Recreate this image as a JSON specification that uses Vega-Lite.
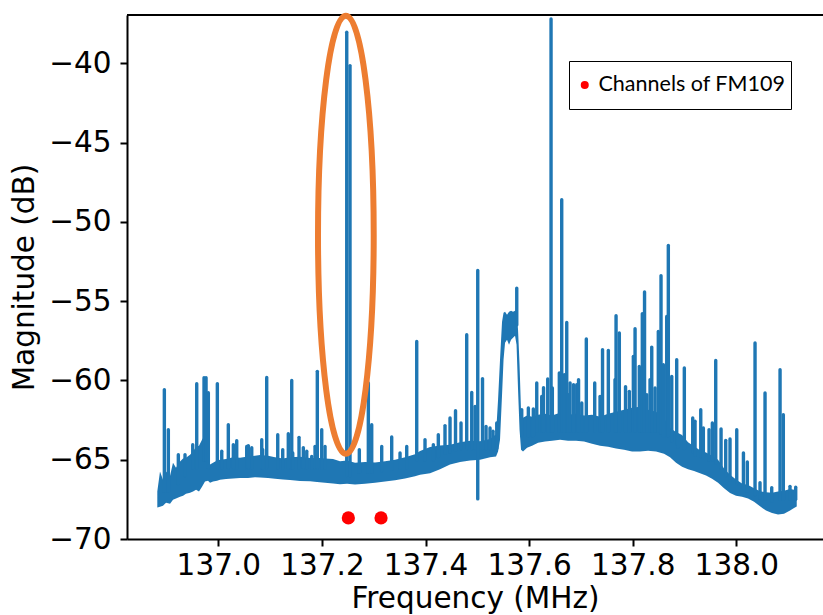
{
  "$schema": "https://vega.github.io/schema/vega-lite/v6.json",
  "width": 696,
  "height": 524,
  "autosize": {"type": "none"},
  "padding": {"left": 127, "top": 15, "right": 0, "bottom": 76},
  "background": "white",
  "config": {
    "view": {"stroke": null},
    "font": "DejaVu Sans",
    "axis": {
      "labelFont": "DejaVu Sans",
      "titleFont": "DejaVu Sans",
      "labelFontSize": 29.5,
      "titleFontSize": 29.5,
      "titleFontWeight": "normal",
      "labelColor": "black",
      "titleColor": "black",
      "domainColor": "black",
      "tickColor": "black",
      "domainWidth": 2,
      "tickWidth": 2,
      "tickSize": 7,
      "grid": false,
      "labelFlush": false,
      "labelOverlap": false
    }
  },
  "datasets": {
    "band": [
      {"freq": 136.8822, "hi": -67.01, "lo": -68.02},
      {"freq": 136.8874, "hi": -65.75, "lo": -67.96},
      {"freq": 136.8932, "hi": -66.26, "lo": -67.90},
      {"freq": 136.8990, "hi": -65.75, "lo": -67.71},
      {"freq": 136.9068, "hi": -66.01, "lo": -67.77},
      {"freq": 136.9125, "hi": -65.19, "lo": -67.52},
      {"freq": 136.9183, "hi": -65.50, "lo": -67.45},
      {"freq": 136.9261, "hi": -65.12, "lo": -67.33},
      {"freq": 136.9319, "hi": -64.93, "lo": -67.27},
      {"freq": 136.9376, "hi": -64.87, "lo": -67.14},
      {"freq": 136.9454, "hi": -64.68, "lo": -67.08},
      {"freq": 136.9512, "hi": -64.49, "lo": -67.01},
      {"freq": 136.9570, "hi": -64.18, "lo": -66.89},
      {"freq": 136.9627, "hi": -64.12, "lo": -67.01},
      {"freq": 136.9685, "hi": -63.74, "lo": -66.70},
      {"freq": 136.9743, "hi": -63.42, "lo": -66.38},
      {"freq": 136.9801, "hi": -64.05, "lo": -66.32},
      {"freq": 136.9840, "hi": -65.30, "lo": -66.45},
      {"freq": 136.9898, "hi": -65.20, "lo": -66.38},
      {"freq": 136.9975, "hi": -65.05, "lo": -66.32},
      {"freq": 137.0033, "hi": -65.00, "lo": -66.26},
      {"freq": 137.0149, "hi": -64.95, "lo": -66.22},
      {"freq": 137.0284, "hi": -64.85, "lo": -66.18},
      {"freq": 137.0419, "hi": -64.88, "lo": -66.15},
      {"freq": 137.0573, "hi": -64.80, "lo": -66.15},
      {"freq": 137.0708, "hi": -64.75, "lo": -66.10},
      {"freq": 137.0805, "hi": -64.70, "lo": -66.12},
      {"freq": 137.0959, "hi": -64.75, "lo": -66.15},
      {"freq": 137.1095, "hi": -64.85, "lo": -66.20},
      {"freq": 137.1249, "hi": -64.92, "lo": -66.25},
      {"freq": 137.1384, "hi": -64.85, "lo": -66.28},
      {"freq": 137.1577, "hi": -64.82, "lo": -66.34},
      {"freq": 137.1770, "hi": -64.90, "lo": -66.36},
      {"freq": 137.1905, "hi": -64.88, "lo": -66.40},
      {"freq": 137.2060, "hi": -64.92, "lo": -66.45},
      {"freq": 137.2214, "hi": -64.95, "lo": -66.50},
      {"freq": 137.2349, "hi": -65.10, "lo": -66.55},
      {"freq": 137.2485, "hi": -65.05, "lo": -66.51},
      {"freq": 137.2639, "hi": -65.20, "lo": -66.57},
      {"freq": 137.2832, "hi": -65.15, "lo": -66.51},
      {"freq": 137.3025, "hi": -65.18, "lo": -66.45},
      {"freq": 137.3218, "hi": -65.10, "lo": -66.38},
      {"freq": 137.3411, "hi": -65.00, "lo": -66.30},
      {"freq": 137.3604, "hi": -64.85, "lo": -66.18},
      {"freq": 137.3797, "hi": -64.65, "lo": -66.05},
      {"freq": 137.3894, "hi": -64.45, "lo": -65.95},
      {"freq": 137.4087, "hi": -64.20, "lo": -65.85},
      {"freq": 137.4280, "hi": -64.10, "lo": -65.60},
      {"freq": 137.4473, "hi": -64.05, "lo": -65.31},
      {"freq": 137.4666, "hi": -63.90, "lo": -65.15},
      {"freq": 137.4859, "hi": -63.80, "lo": -65.05},
      {"freq": 137.5052, "hi": -63.83, "lo": -65.00},
      {"freq": 137.5245, "hi": -63.70, "lo": -64.85},
      {"freq": 137.5361, "hi": -63.40, "lo": -64.80},
      {"freq": 137.5400, "hi": -61.22, "lo": -64.49},
      {"freq": 137.5438, "hi": -58.70, "lo": -63.74},
      {"freq": 137.5477, "hi": -56.30, "lo": -60.90},
      {"freq": 137.5506, "hi": -55.73, "lo": -58.70},
      {"freq": 137.5535, "hi": -55.67, "lo": -57.62},
      {"freq": 137.5573, "hi": -55.86, "lo": -57.44},
      {"freq": 137.5612, "hi": -55.67, "lo": -57.75},
      {"freq": 137.5651, "hi": -55.61, "lo": -57.44},
      {"freq": 137.5689, "hi": -55.67, "lo": -57.31},
      {"freq": 137.5728, "hi": -55.61, "lo": -57.18},
      {"freq": 137.5757, "hi": -55.55, "lo": -57.75},
      {"freq": 137.5786, "hi": -56.81, "lo": -60.59},
      {"freq": 137.5815, "hi": -59.01, "lo": -63.11},
      {"freq": 137.5844, "hi": -61.97, "lo": -64.37},
      {"freq": 137.5882, "hi": -62.35, "lo": -64.49},
      {"freq": 137.5960, "hi": -62.22, "lo": -64.24},
      {"freq": 137.6056, "hi": -62.29, "lo": -64.12},
      {"freq": 137.6172, "hi": -62.16, "lo": -63.93},
      {"freq": 137.6307, "hi": -62.10, "lo": -63.86},
      {"freq": 137.6442, "hi": -62.22, "lo": -63.80},
      {"freq": 137.6597, "hi": -62.04, "lo": -63.74},
      {"freq": 137.6751, "hi": -62.16, "lo": -63.80},
      {"freq": 137.6906, "hi": -62.10, "lo": -63.80},
      {"freq": 137.7060, "hi": -62.22, "lo": -63.86},
      {"freq": 137.7214, "hi": -62.16, "lo": -63.99},
      {"freq": 137.7369, "hi": -62.29, "lo": -64.12},
      {"freq": 137.7523, "hi": -62.10, "lo": -64.18},
      {"freq": 137.7678, "hi": -61.97, "lo": -64.30},
      {"freq": 137.7832, "hi": -61.85, "lo": -64.37},
      {"freq": 137.7987, "hi": -61.72, "lo": -64.49},
      {"freq": 137.8141, "hi": -61.66, "lo": -64.49},
      {"freq": 137.8295, "hi": -61.85, "lo": -64.43},
      {"freq": 137.8450, "hi": -61.97, "lo": -64.49},
      {"freq": 137.8604, "hi": -62.35, "lo": -64.62},
      {"freq": 137.8720, "hi": -63.00, "lo": -64.85},
      {"freq": 137.8836, "hi": -63.25, "lo": -65.20},
      {"freq": 137.8952, "hi": -63.45, "lo": -65.45},
      {"freq": 137.9068, "hi": -63.90, "lo": -65.60},
      {"freq": 137.9183, "hi": -64.15, "lo": -65.72},
      {"freq": 137.9299, "hi": -64.40, "lo": -65.85},
      {"freq": 137.9415, "hi": -64.55, "lo": -66.00},
      {"freq": 137.9531, "hi": -64.75, "lo": -66.20},
      {"freq": 137.9647, "hi": -65.00, "lo": -66.45},
      {"freq": 137.9763, "hi": -65.55, "lo": -66.80},
      {"freq": 137.9878, "hi": -65.95, "lo": -67.10},
      {"freq": 137.9994, "hi": -66.25, "lo": -67.27},
      {"freq": 138.0110, "hi": -66.50, "lo": -67.33},
      {"freq": 138.0226, "hi": -66.60, "lo": -67.45},
      {"freq": 138.0342, "hi": -66.80, "lo": -67.65},
      {"freq": 138.0457, "hi": -66.99, "lo": -67.94},
      {"freq": 138.0573, "hi": -67.05, "lo": -68.21},
      {"freq": 138.0689, "hi": -67.08, "lo": -68.36},
      {"freq": 138.0805, "hi": -67.01, "lo": -68.46},
      {"freq": 138.0921, "hi": -66.95, "lo": -68.40},
      {"freq": 138.1037, "hi": -66.85, "lo": -68.20},
      {"freq": 138.1114, "hi": -66.90, "lo": -68.05},
      {"freq": 138.1166, "hi": -67.10, "lo": -67.95}
    ],
    "spikes": [
      {"freq": 136.8958, "peak": -60.59, "base": -67.0},
      {"freq": 136.9035, "peak": -63.11, "base": -67.0},
      {"freq": 136.9228, "peak": -64.68, "base": -66.5},
      {"freq": 136.9357, "peak": -64.68, "base": -66.0},
      {"freq": 136.9506, "peak": -64.05, "base": -65.5},
      {"freq": 136.9583, "peak": -60.21, "base": -65.5},
      {"freq": 136.9724, "peak": -59.83, "base": -65.0},
      {"freq": 136.9763, "peak": -59.83, "base": -65.0},
      {"freq": 136.9807, "peak": -60.78, "base": -65.5},
      {"freq": 136.9981, "peak": -60.21, "base": -65.5},
      {"freq": 137.0066, "peak": -64.47, "base": -65.5},
      {"freq": 137.0193, "peak": -62.79, "base": -65.5},
      {"freq": 137.0290, "peak": -64.05, "base": -65.5},
      {"freq": 137.0355, "peak": -63.80, "base": -65.5},
      {"freq": 137.0548, "peak": -64.16, "base": -65.5},
      {"freq": 137.0645, "peak": -64.24, "base": -65.5},
      {"freq": 137.0579, "peak": -64.11, "base": -65.5},
      {"freq": 137.0838, "peak": -63.74, "base": -65.5},
      {"freq": 137.0857, "peak": -64.37, "base": -65.5},
      {"freq": 137.0934, "peak": -59.81, "base": -65.5},
      {"freq": 137.1147, "peak": -63.42, "base": -65.5},
      {"freq": 137.1243, "peak": -64.37, "base": -65.5},
      {"freq": 137.1351, "peak": -63.36, "base": -65.5},
      {"freq": 137.1417, "peak": -60.00, "base": -65.5},
      {"freq": 137.1436, "peak": -64.58, "base": -65.5},
      {"freq": 137.1558, "peak": -63.59, "base": -65.5},
      {"freq": 137.1641, "peak": -64.24, "base": -65.5},
      {"freq": 137.1707, "peak": -64.47, "base": -65.5},
      {"freq": 137.1803, "peak": -64.79, "base": -65.5},
      {"freq": 137.1867, "peak": -64.16, "base": -65.5},
      {"freq": 137.1911, "peak": -59.43, "base": -65.5},
      {"freq": 137.1996, "peak": -63.11, "base": -65.5},
      {"freq": 137.2060, "peak": -64.16, "base": -65.5},
      {"freq": 137.2479, "peak": -38.05, "base": -66.0},
      {"freq": 137.2542, "peak": -40.15, "base": -66.0},
      {"freq": 137.2722, "peak": -64.37, "base": -65.8},
      {"freq": 137.2896, "peak": -60.16, "base": -65.8},
      {"freq": 137.2961, "peak": -62.79, "base": -65.8},
      {"freq": 137.3154, "peak": -64.16, "base": -65.7},
      {"freq": 137.3347, "peak": -63.57, "base": -65.6},
      {"freq": 137.3508, "peak": -64.58, "base": -65.5},
      {"freq": 137.3637, "peak": -64.16, "base": -65.5},
      {"freq": 137.3830, "peak": -57.54, "base": -65.0},
      {"freq": 137.3990, "peak": -63.74, "base": -65.0},
      {"freq": 137.4151, "peak": -64.05, "base": -65.0},
      {"freq": 137.4247, "peak": -63.42, "base": -64.8},
      {"freq": 137.4376, "peak": -62.85, "base": -64.6},
      {"freq": 137.4473, "peak": -62.37, "base": -64.5},
      {"freq": 137.4579, "peak": -61.91, "base": -64.4},
      {"freq": 137.4685, "peak": -62.68, "base": -64.3},
      {"freq": 137.4795, "peak": -57.12, "base": -64.3},
      {"freq": 137.4892, "peak": -60.76, "base": -64.3},
      {"freq": 137.4956, "peak": -61.64, "base": -64.3},
      {"freq": 137.5008, "peak": -53.07, "base": -67.47},
      {"freq": 137.5100, "peak": -59.89, "base": -64.3},
      {"freq": 137.5168, "peak": -62.90, "base": -64.3},
      {"freq": 137.5245, "peak": -63.00, "base": -64.3},
      {"freq": 137.5303, "peak": -63.20, "base": -64.3},
      {"freq": 137.5375, "peak": -62.68, "base": -64.3},
      {"freq": 137.5761, "peak": -54.18, "base": -56.5},
      {"freq": 137.5857, "peak": -61.85, "base": -63.5},
      {"freq": 137.5985, "peak": -61.74, "base": -63.5},
      {"freq": 137.6081, "peak": -61.80, "base": -63.5},
      {"freq": 137.6147, "peak": -60.16, "base": -63.2},
      {"freq": 137.6243, "peak": -61.01, "base": -63.2},
      {"freq": 137.6278, "peak": -60.46, "base": -63.2},
      {"freq": 137.6359, "peak": -59.91, "base": -63.2},
      {"freq": 137.6423, "peak": -37.21, "base": -63.2},
      {"freq": 137.6448, "peak": -60.48, "base": -63.2},
      {"freq": 137.6583, "peak": -59.53, "base": -63.2},
      {"freq": 137.6629, "peak": -48.61, "base": -63.2},
      {"freq": 137.6680, "peak": -59.64, "base": -63.2},
      {"freq": 137.6726, "peak": -56.35, "base": -63.2},
      {"freq": 137.6757, "peak": -60.90, "base": -63.2},
      {"freq": 137.6790, "peak": -60.16, "base": -63.2},
      {"freq": 137.6857, "peak": -60.27, "base": -63.2},
      {"freq": 137.6919, "peak": -60.27, "base": -63.2},
      {"freq": 137.6954, "peak": -59.96, "base": -63.2},
      {"freq": 137.7016, "peak": -61.42, "base": -63.2},
      {"freq": 137.7104, "peak": -57.39, "base": -63.2},
      {"freq": 137.7266, "peak": -60.16, "base": -63.2},
      {"freq": 137.7369, "peak": -61.01, "base": -63.2},
      {"freq": 137.7417, "peak": -58.07, "base": -63.2},
      {"freq": 137.7529, "peak": -58.11, "base": -63.2},
      {"freq": 137.7658, "peak": -59.96, "base": -63.2},
      {"freq": 137.7678, "peak": -55.92, "base": -63.2},
      {"freq": 137.7741, "peak": -57.01, "base": -63.2},
      {"freq": 137.7861, "peak": -60.40, "base": -63.2},
      {"freq": 137.7934, "peak": -60.69, "base": -63.2},
      {"freq": 137.8012, "peak": -58.49, "base": -63.2},
      {"freq": 137.8045, "peak": -56.74, "base": -63.2},
      {"freq": 137.8127, "peak": -59.12, "base": -63.2},
      {"freq": 137.8141, "peak": -60.59, "base": -63.2},
      {"freq": 137.8185, "peak": -55.80, "base": -63.2},
      {"freq": 137.8228, "peak": -54.43, "base": -63.2},
      {"freq": 137.8271, "peak": -60.90, "base": -63.2},
      {"freq": 137.8334, "peak": -59.96, "base": -63.2},
      {"freq": 137.8367, "peak": -57.90, "base": -63.2},
      {"freq": 137.8431, "peak": -60.48, "base": -63.2},
      {"freq": 137.8494, "peak": -56.91, "base": -63.2},
      {"freq": 137.8546, "peak": -53.40, "base": -63.3},
      {"freq": 137.8591, "peak": -59.01, "base": -63.5},
      {"freq": 137.8656, "peak": -55.97, "base": -63.5},
      {"freq": 137.8687, "peak": -51.49, "base": -63.5},
      {"freq": 137.8753, "peak": -59.75, "base": -63.8},
      {"freq": 137.8849, "peak": -58.70, "base": -64.0},
      {"freq": 137.8880, "peak": -63.53, "base": -64.2},
      {"freq": 137.8996, "peak": -59.22, "base": -64.3},
      {"freq": 137.9158, "peak": -62.37, "base": -64.5},
      {"freq": 137.9203, "peak": -62.58, "base": -64.7},
      {"freq": 137.9313, "peak": -61.85, "base": -64.8},
      {"freq": 137.9363, "peak": -63.00, "base": -64.8},
      {"freq": 137.9473, "peak": -63.11, "base": -65.0},
      {"freq": 137.9537, "peak": -62.68, "base": -65.0},
      {"freq": 137.9602, "peak": -58.74, "base": -65.2},
      {"freq": 137.9705, "peak": -63.06, "base": -65.5},
      {"freq": 137.9795, "peak": -63.78, "base": -66.0},
      {"freq": 137.9878, "peak": -63.69, "base": -66.3},
      {"freq": 138.0008, "peak": -63.11, "base": -66.5},
      {"freq": 138.0137, "peak": -64.58, "base": -66.8},
      {"freq": 138.0212, "peak": -65.14, "base": -67.0},
      {"freq": 138.0361, "peak": -57.64, "base": -67.2},
      {"freq": 138.0457, "peak": -66.45, "base": -67.4},
      {"freq": 138.0554, "peak": -60.79, "base": -67.5},
      {"freq": 138.0683, "peak": -66.76, "base": -67.6},
      {"freq": 138.0844, "peak": -59.33, "base": -67.5},
      {"freq": 138.0907, "peak": -62.16, "base": -67.5},
      {"freq": 138.1036, "peak": -66.68, "base": -67.5},
      {"freq": 138.1146, "peak": -66.74, "base": -67.5}
    ],
    "channels": [
      {"freq": 137.2510, "mag": -68.67, "label": "Channels of FM109"},
      {"freq": 137.3141, "mag": -68.67, "label": "Channels of FM109"}
    ],
    "highlight": [
      {"freq": 137.2462, "mag": -50.81}
    ]
  },
  "layer": [
    {
      "data": {"name": "band"},
      "mark": {"type": "area", "color": "#1f77b4", "opacity": 1},
      "encoding": {
        "x": {
          "field": "freq",
          "type": "quantitative",
          "scale": {"domain": [136.8237, 138.1673], "nice": false, "zero": false},
          "axis": {
            "title": "Frequency (MHz)",
            "values": [137.0, 137.2, 137.4, 137.6, 137.8, 138.0],
            "format": ".1f",
            "labelPadding": 5,
            "titlePadding": 5
          }
        },
        "y": {
          "field": "hi",
          "type": "quantitative",
          "scale": {"domain": [-70, -36.96], "nice": false, "zero": false},
          "axis": {
            "title": "Magnitude (dB)",
            "values": [-70, -65, -60, -55, -50, -45, -40],
            "labelExpr": "replace(datum.label, '-', '−')",
            "labelPadding": 9,
            "titlePadding": 9
          }
        },
        "y2": {"field": "lo"}
      }
    },
    {
      "data": {"name": "spikes"},
      "mark": {"type": "rule", "color": "#1f77b4", "strokeWidth": 3.4, "strokeCap": "round"},
      "encoding": {
        "x": {"field": "freq", "type": "quantitative"},
        "y": {"field": "peak", "type": "quantitative"},
        "y2": {"field": "base"}
      }
    },
    {
      "data": {"values": [{}]},
      "mark": {"type": "rule", "color": "black", "strokeWidth": 2},
      "encoding": {"y": {"datum": -36.96, "type": "quantitative"}}
    },
    {
      "data": {"name": "channels"},
      "mark": {"type": "point", "filled": true, "size": 175, "opacity": 1, "shape": "circle"},
      "encoding": {
        "x": {"field": "freq", "type": "quantitative"},
        "y": {"field": "mag", "type": "quantitative"},
        "color": {
          "field": "label",
          "type": "nominal",
          "scale": {"range": ["#ff0000"]},
          "legend": {
            "title": null,
            "orient": "none",
            "legendX": 442,
            "legendY": 46,
            "fillColor": "white",
            "strokeColor": "black",
            "padding": 5,
            "clipHeight": 38,
            "labelFont": "Lato",
            "labelFontSize": 21.5,
            "labelColor": "black",
            "labelLimit": 0,
            "labelOffset": 3,
            "symbolSize": 64,
            "symbolType": "circle",
            "symbolStrokeWidth": 0,
            "encode": {"legend": {"update": {"strokeWidth": {"value": 2}}}}
          }
        }
      }
    },
    {
      "data": {"name": "highlight"},
      "mark": {
        "type": "point",
        "shape": "M0,-1C0.0703,-1 0.1272,-0.5523 0.1272,0C0.1272,0.5523 0.0703,1 0,1C-0.0703,1 -0.1272,0.5523 -0.1272,0C-0.1272,-0.5523 -0.0703,-1 0,-1Z",
        "size": 191844,
        "filled": false,
        "stroke": "#ED7D31",
        "strokeWidth": 6,
        "opacity": 1
      },
      "encoding": {
        "x": {"field": "freq", "type": "quantitative"},
        "y": {"field": "mag", "type": "quantitative"}
      }
    }
  ]
}
